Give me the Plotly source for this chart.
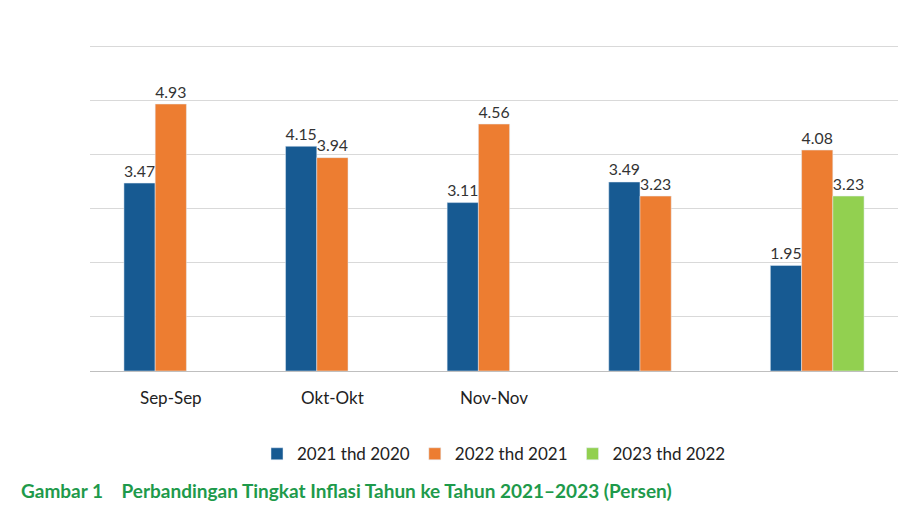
import plotly.graph_objects as go

categories = ["Sep-Sep", "Okt-Okt", "Nov-Nov", " ", "  "]
series_names = ["2021 thd 2020", "2022 thd 2021", "2023 thd 2022"]
v2021 = [3.47, 4.15, 3.11, 3.49, 1.95]
v2022 = [4.93, 3.94, 4.56, 3.23, 4.08]
v2023 = [None, None, None, None, 3.23]
colors = ["#175A92", "#ED7D31", "#92D050"]

fig = go.Figure()
for name, vals, c in zip(series_names, [v2021, v2022, v2023], colors):
    fig.add_trace(go.Bar(
        x=categories, y=vals, name=name, marker_color=c,
        text=[f"{v:.2f}" if v is not None else "" for v in vals],
        textposition="outside", cliponaxis=False,
        textfont=dict(size=18, color="#333333", family="Lato"),
    ))

fig.update_layout(
    width=921, height=516,
    barmode="group", bargap=0.42, bargroupgap=0,
    plot_bgcolor="white", paper_bgcolor="white",
    font=dict(family="Lato", size=16, color="#222222"),
    margin=dict(l=82, r=31, t=37, b=153),
    yaxis=dict(range=[0, 6.02], tickvals=[0, 1, 2, 3, 4, 5, 6], showticklabels=False,
               gridcolor="#d9d9d9", zeroline=False),
    xaxis=dict(showline=True, linecolor="#bfbfbf", ticks="outside", ticklen=12,
               tickcolor="white", tickfont=dict(size=17, color="#222222")),
    legend=dict(orientation="h", x=0.5, xanchor="center", y=-0.2, yanchor="top",
                font=dict(size=17), itemwidth=30, traceorder="normal"),
    annotations=[dict(
        text="<b>Gambar 1    Perbandingan Tingkat Inflasi Tahun ke Tahun 2021–2023 (Persen)</b>",
        xref="paper", yref="paper", x=-0.088, y=-0.325, xanchor="left", yanchor="top",
        showarrow=False, font=dict(size=19, color="#1E9A4B", family="Lato"),
    )],
)

fig.write_html("out.html")
